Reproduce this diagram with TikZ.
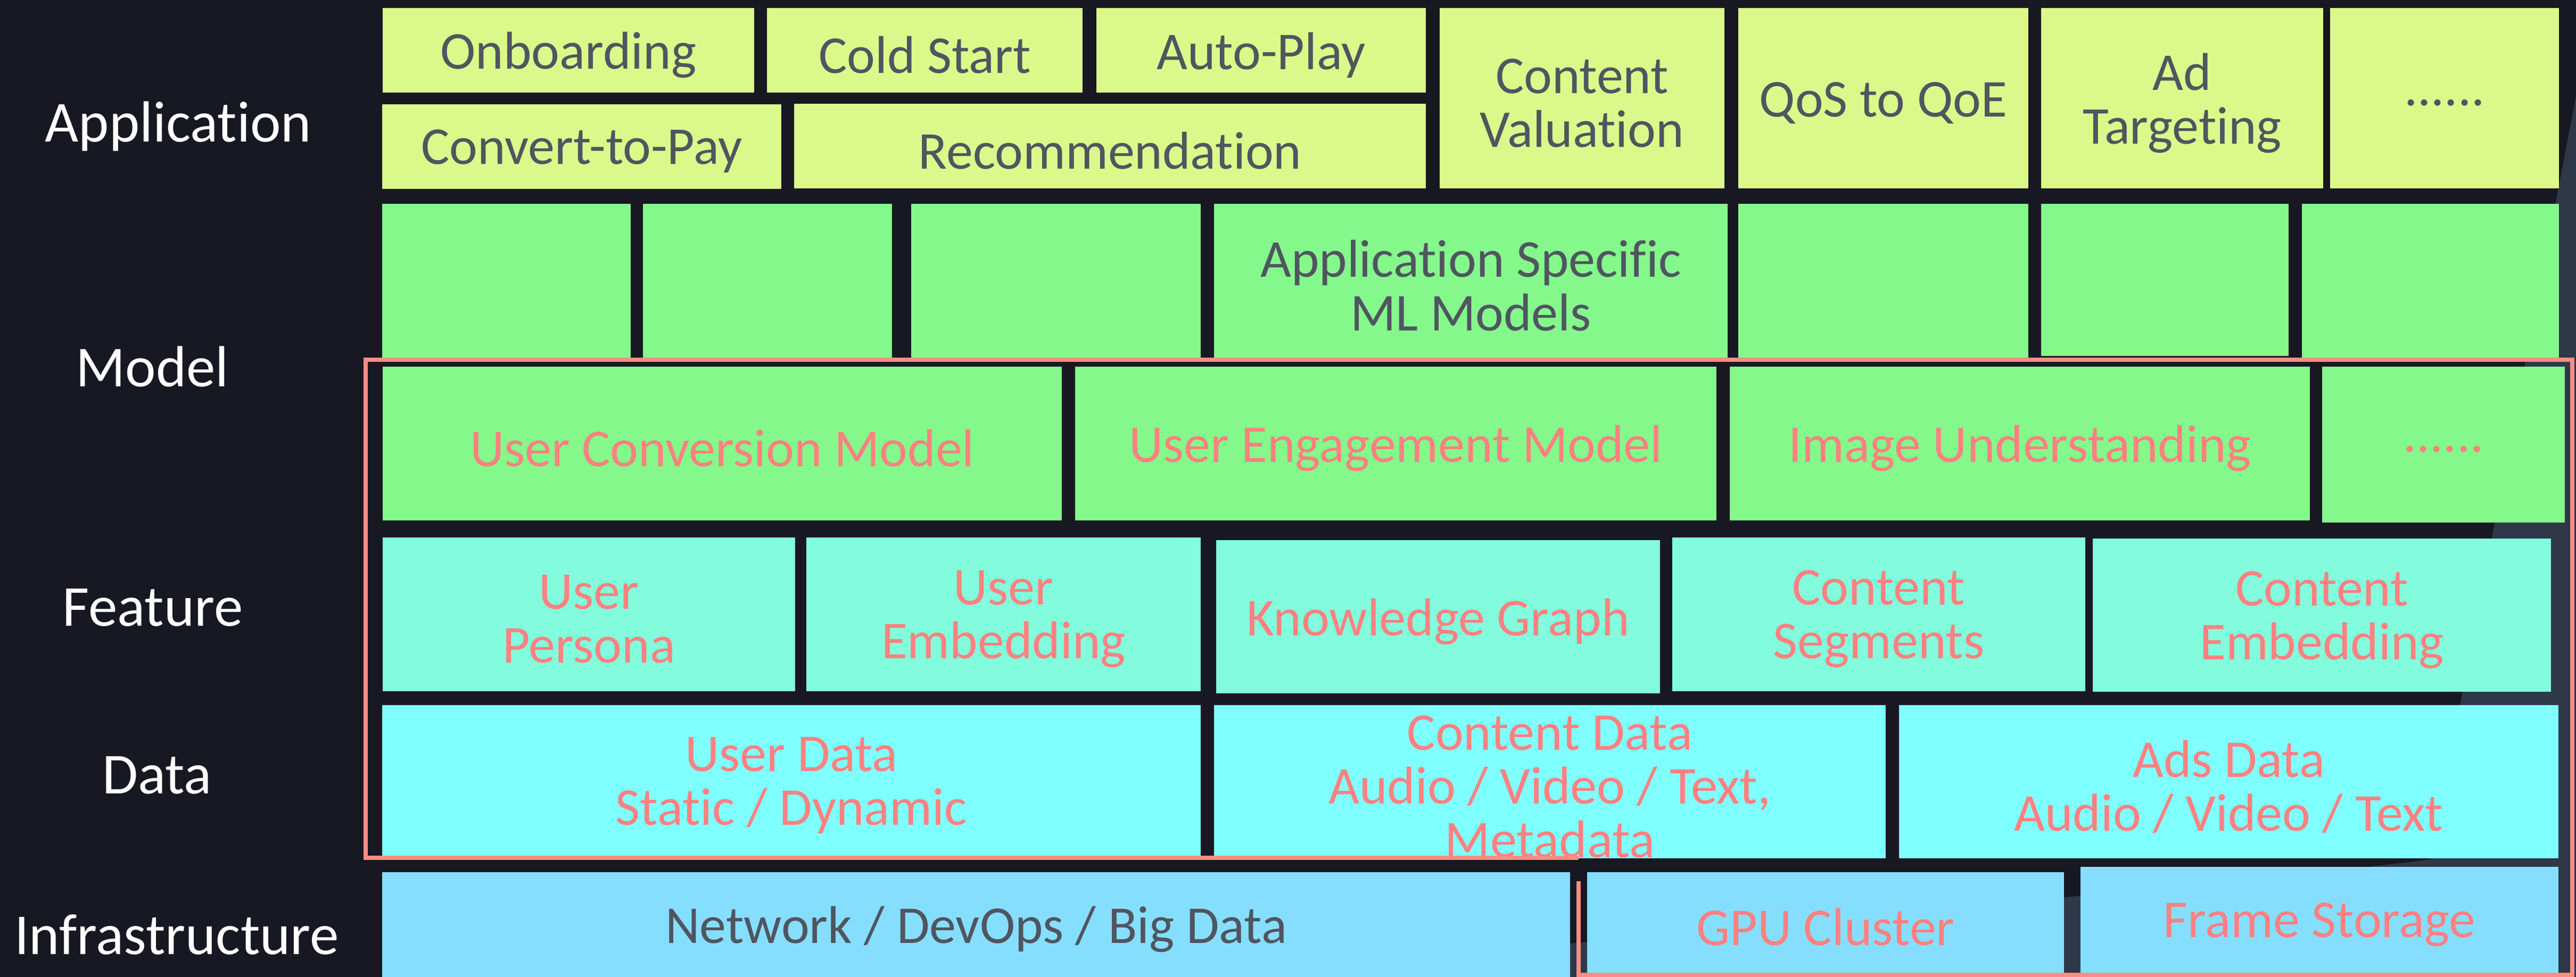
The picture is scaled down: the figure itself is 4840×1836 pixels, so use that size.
\documentclass[tikz,border=0pt]{standalone}
\usepackage{fontspec}
\setmainfont{Carlito}[Ligatures={NoCommon,NoContextual}]
\definecolor{bgdark}{RGB}{24,24,34}
\definecolor{slate}{RGB}{46,56,73}
\definecolor{appc}{RGB}{219,249,138}
\definecolor{modc}{RGB}{132,248,139}
\definecolor{featc}{RGB}{130,252,220}
\definecolor{datac}{RGB}{128,255,255}
\definecolor{infc}{RGB}{134,222,254}
\definecolor{greytxt}{RGB}{80,85,96}
\definecolor{redtxt}{RGB}{255,128,128}
\definecolor{redline}{RGB}{255,140,132}
\tikzset{
  boxbase/.style={draw=none, inner sep=0pt, outer sep=0pt},
  txtbase/.style={inner sep=0pt, outer sep=0pt, align=center, font={\fontsize{100}{101}\selectfont}},
  gtxt/.style={txtbase, text=greytxt},
  rtxt/.style={txtbase, text=redtxt},
  layerlabel/.style={inner sep=0pt, anchor=base, text=white, font={\fontsize{109}{110}\selectfont}},
  frameline/.style={draw=redline, line width=8pt},
}
% name, fill, text style, x1, y1, x2, y2, text
\newcommand\mybox[8]{%
  \node[boxbase, fill=#2, minimum width={(#6-#4)*1pt}, minimum height={(#7-#5)*1pt}] (#1) at ({(#4+#6)/2},{(#5+#7)/2}) {};
  \node[#3] (#1-t) at ([yshift=-9pt]#1.center) {#8};
}
\begin{document}
\begin{tikzpicture}[x=1pt,y=-1pt]
\fill[bgdark] (0,0) rectangle (4840,1836);
\useasboundingbox (0,0) rectangle (4840,1836);
\fill[slate] (4840,180) -- (4567,1615) .. controls (4300,1650) and (3300,1740) .. (2960,1772) -- (2000,1836) -- (4840,1836) -- cycle;

% layer labels
\node[layerlabel] (lapp) at (335,266) {Application};
\node[layerlabel] (lmod) at (286,726) {Model};
\node[layerlabel] (lfeat) at (287,1176) {Feature};
\node[layerlabel] (ldata) at (295,1491) {Data};
\node[layerlabel] (linf) at (332,1793) {Infrastructure};

% application
\mybox{onb}{appc}{gtxt}{719}{15}{1417}{174}{Onboarding}
\mybox{cold}{appc}{gtxt}{1441}{15}{2034}{174}{Cold Start}
\mybox{auto}{appc}{gtxt}{2060}{15}{2679}{174}{Auto-Play}
\mybox{ctp}{appc}{gtxt}{718}{196}{1468}{355}{Convert-to-Pay}
\mybox{rec}{appc}{gtxt}{1492}{195}{2679}{354}{Recommendation}
\mybox{cval}{appc}{gtxt}{2705}{15}{3240}{354}{Content\\Valuation}
\mybox{qos}{appc}{gtxt}{3266}{15}{3811}{354}{QoS to QoE}
\mybox{adt}{appc}{gtxt}{3835}{15}{4365}{354}{Ad\\Targeting}
\mybox{appdots}{appc}{gtxt}{4378}{15}{4808}{354}{......}

% model row 1
\mybox{ma}{modc}{gtxt}{718}{383}{1185}{672}{}
\mybox{mb}{modc}{gtxt}{1208}{383}{1676}{672}{}
\mybox{mc}{modc}{gtxt}{1712}{383}{2256}{672}{}
\mybox{appml}{modc}{gtxt}{2281}{383}{3246}{672}{Application Specific\\ML Models}
\mybox{md}{modc}{gtxt}{3266}{383}{3811}{672}{}
\mybox{me}{modc}{gtxt}{3835}{383}{4300}{669}{}
\mybox{mf}{modc}{gtxt}{4325}{383}{4808}{672}{}

% model row 2
\mybox{ucm}{modc}{rtxt}{719}{689}{1995}{978}{User Conversion Model}
\mybox{uem}{modc}{rtxt}{2020}{689}{3225}{978}{User Engagement Model}
\mybox{img}{modc}{rtxt}{3250}{689}{4340}{978}{Image Understanding}
\mybox{mdots}{modc}{rtxt}{4363}{689}{4819}{982}{......}

% feature
\mybox{up}{featc}{rtxt}{719}{1010}{1494}{1299}{User\\Persona}
\mybox{ue}{featc}{rtxt}{1515}{1010}{2256}{1299}{User\\Embedding}
\mybox{kg}{featc}{rtxt}{2285}{1015}{3119}{1303}{Knowledge Graph}
\mybox{cs}{featc}{rtxt}{3142}{1010}{3918}{1299}{Content\\Segments}
\mybox{ce}{featc}{rtxt}{3932}{1012}{4793}{1300}{Content\\Embedding}

% data
\mybox{ud}{datac}{rtxt}{718}{1325}{2256}{1609}{User Data\\Static / Dynamic}
\mybox{cd}{datac}{rtxt}{2281}{1325}{3543}{1613}{Content Data\\Audio / Video / Text,\\Metadata}
\mybox{ads}{datac}{rtxt}{3568}{1325}{4807}{1613}{Ads Data\\Audio / Video / Text}

% infrastructure
\mybox{net}{infc}{gtxt}{718}{1639}{2950}{1836}{Network / DevOps / Big Data}
\mybox{gpu}{infc}{rtxt}{2982}{1639}{3878}{1828}{GPU Cluster}
\mybox{fs}{infc}{rtxt}{3909}{1629}{4807}{1828}{Frame Storage}

% red outline
\draw[frameline] (2966,1656) -- (2966,1832) -- (4833,1832) -- (4833,676) -- (687,676) -- (687,1612) -- (2966,1612);
\end{tikzpicture}
\end{document}
